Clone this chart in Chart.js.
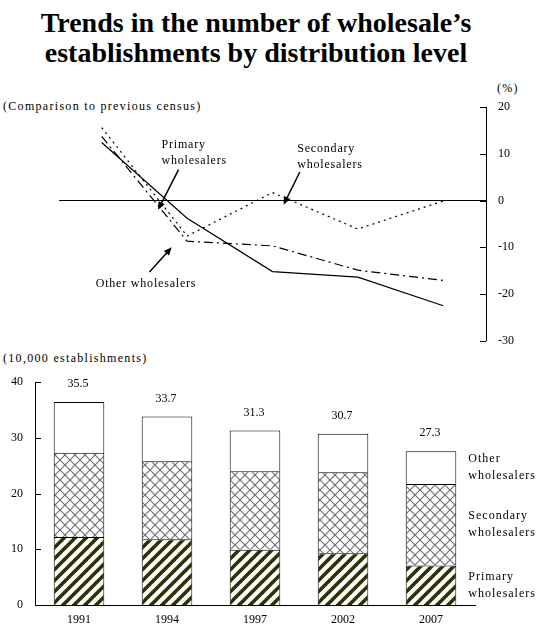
<!DOCTYPE html>
<html>
<head>
<meta charset="utf-8">
<script src="https://cdn.jsdelivr.net/npm/chart.js@4.4.1/dist/chart.umd.min.js"></script>
<style>
    body { margin: 0; width: 540px; height: 625px; background: #fff; position: relative; overflow: hidden;
           font-family: "Liberation Serif", "Times New Roman", serif; color: #000; }
    #title { position: absolute; top: 8px; left: 0; width: 512px; text-align: center;
             font-weight: bold; font-size: 28px; line-height: 30px; }
    .note { position: absolute; font-size: 12px; letter-spacing: 1.3px; white-space: nowrap; line-height: 14px; }
    #lineWrap { position: absolute; left: 0; top: 80px; width: 540px; height: 280px; }
    #barWrap { position: absolute; left: 0; top: 360px; width: 540px; height: 265px; }
</style>
</head>
<body>
<div id="title">Trends in the number of wholesale’s<br>establishments by distribution level</div>
<div class="note" style="left:3px; top:99px;">(Comparison to previous census)</div>
<div class="note" style="left:497px; top:81px;">(%)</div>
<div class="note" style="left:3px; top:351px;">(10,000 establishments)</div>
<div id="lineWrap"><canvas id="lineChart" width="540" height="280"></canvas></div>
<div id="barWrap"><canvas id="barChart" width="540" height="265"></canvas></div>

<script>
// Dados
const years = ['1991', '1994', '1997', '2002', '2007'];

// Variação em relação ao censo anterior (%)
const primaryChange = [12.4, -3.8, -15.2, -16.4, -22.5];
const secondaryChange = [15.6, -7.6, 1.7, -6.1, -0.1];
const otherChange = [13.7, -8.7, -9.7, -14.9, -17.1];
const changeTicks = [20, 10, 0, -10, -20, -30];

// Número de estabelecimentos (10.000)
const primaryCount = [12.2, 11.8, 9.9, 9.3, 7.1];
const secondaryCount = [15.1, 14.0, 14.1, 14.5, 14.6];
const otherCount = [9.1, 8.0, 7.3, 6.9, 5.9];
const totalLabels = ['35.5', '33.7', '31.3', '30.7', '27.3'];
const countTicks = [0, 10, 20, 30, 40];

const seriesNames = ['Primary', 'Secondary', 'Other'];

const serif = '"Liberation Serif", "Times New Roman", serif';

// Padrões de preenchimento
function stripePattern() {
    const c = document.createElement('canvas');
    c.width = 11; c.height = 11;
    const g = c.getContext('2d');
    g.fillStyle = '#fff';
    g.fillRect(0, 0, 11, 11);
    g.strokeStyle = '#2f2f05';
    g.lineWidth = 3.6;
    [[-5.5, 5.5, 5.5, -5.5], [0, 11, 11, 0], [5.5, 16.5, 16.5, 5.5]].forEach(l => {
        g.beginPath(); g.moveTo(l[0], l[1]); g.lineTo(l[2], l[3]); g.stroke();
    });
    return g.createPattern(c, 'repeat');
}

function crossPattern() {
    const c = document.createElement('canvas');
    c.width = 10; c.height = 10;
    const g = c.getContext('2d');
    g.fillStyle = '#fff';
    g.fillRect(0, 0, 10, 10);
    g.strokeStyle = '#737373';
    g.lineWidth = 1.2;
    g.beginPath(); g.moveTo(0, 0); g.lineTo(10, 10); g.stroke();
    g.beginPath(); g.moveTo(0, 10); g.lineTo(10, 0); g.stroke();
    return g.createPattern(c, 'repeat');
}

function drawArrow(ctx, x1, y1, x2, y2) {
    const ang = Math.atan2(y2 - y1, x2 - x1);
    const len = 8, wid = 3.5;
    ctx.save();
    ctx.strokeStyle = '#000';
    ctx.fillStyle = '#000';
    ctx.lineWidth = 1.5;
    ctx.beginPath();
    ctx.moveTo(x1, y1);
    ctx.lineTo(x2 - Math.cos(ang) * len * 0.8, y2 - Math.sin(ang) * len * 0.8);
    ctx.stroke();
    ctx.beginPath();
    ctx.moveTo(x2, y2);
    ctx.lineTo(x2 - Math.cos(ang) * len - Math.sin(ang) * wid, y2 - Math.sin(ang) * len + Math.cos(ang) * wid);
    ctx.lineTo(x2 - Math.cos(ang) * len + Math.sin(ang) * wid, y2 - Math.sin(ang) * len - Math.cos(ang) * wid);
    ctx.closePath();
    ctx.fill();
    ctx.restore();
}

// Marcas dos eixos voltadas para dentro
const innerTicks = {
    id: 'innerTicks',
    afterDraw(chart, args, opts) {
        const ctx = chart.ctx;
        const scale = chart.scales.y;
        const x0 = opts.side === 'right' ? chart.chartArea.right : chart.chartArea.left;
        const dir = opts.side === 'right' ? -1 : 1;
        ctx.save();
        ctx.strokeStyle = '#000';
        ctx.lineWidth = 1;
        scale.ticks.forEach(t => {
            const y = Math.round(scale.getPixelForValue(t.value)) + 0.5;
            ctx.beginPath();
            ctx.moveTo(x0, y);
            ctx.lineTo(x0 + dir * 6, y);
            ctx.stroke();
        });
        ctx.restore();
    }
};

// Anotações do gráfico de linhas (em coordenadas de dados)
const lineNotes = {
    id: 'lineNotes',
    afterDraw(chart) {
        const ctx = chart.ctx;
        const xs = chart.scales.x, ys = chart.scales.y;
        const px = v => xs.getPixelForValue(v);
        const py = v => ys.getPixelForValue(v);
        ctx.save();
        ctx.font = '12px ' + serif;
        ctx.letterSpacing = '0.8px';
        ctx.fillStyle = '#000';
        ctx.textAlign = 'left';
        ctx.textBaseline = 'middle';
        ctx.fillText('Primary', px(0.7), py(12.0));
        ctx.fillText('wholesalers', px(0.7), py(8.5));
        ctx.fillText('Secondary', px(2.29), py(11.0));
        ctx.fillText('wholesalers', px(2.29), py(7.6));
        ctx.fillText('Other wholesalers', px(-0.07), py(-17.8));
        ctx.restore();
        drawArrow(ctx, px(0.9), py(6.6), px(0.66), py(-2.0));
        drawArrow(ctx, px(2.32), py(6.1), px(2.13), py(-0.9));
        drawArrow(ctx, px(0.56), py(-15.3), px(0.82), py(-10.0));
    }
};

// Totais e nomes das séries no gráfico de barras
const barNotes = {
    id: 'barNotes',
    afterDatasetsDraw(chart) {
        const ctx = chart.ctx;
        const top = chart.getDatasetMeta(2);
        ctx.save();
        ctx.font = '12px ' + serif;
        ctx.fillStyle = '#000';
        ctx.textAlign = 'center';
        ctx.textBaseline = 'middle';
        top.data.forEach((bar, i) => {
            ctx.fillText(totalLabels[i], bar.x - 1, bar.y - 18);
        });
        ctx.textAlign = 'left';
        ctx.letterSpacing = '1px';
        const last = years.length - 1;
        seriesNames.forEach((name, d) => {
            const bar = chart.getDatasetMeta(d).data[last];
            const mid = (bar.y + bar.base) / 2;
            const x = bar.x + bar.width / 2 + 12;
            ctx.fillText(name, x, mid - 8.5);
            ctx.fillText('wholesalers', x, mid + 8.5);
        });
        ctx.restore();
    }
};

function toPoints(arr) {
    return arr.map((v, i) => ({ x: i, y: v }));
}

// Gráfico de linhas
new Chart(document.getElementById('lineChart'), {
    type: 'line',
    data: {
        datasets: [
            { label: 'Primary wholesalers', data: toPoints(primaryChange), borderColor: '#000', borderWidth: 1.2, pointRadius: 0, tension: 0 },
            { label: 'Secondary wholesalers', data: toPoints(secondaryChange), borderColor: '#000', borderWidth: 1.2, borderDash: [2, 4], pointRadius: 0, tension: 0 },
            { label: 'Other wholesalers', data: toPoints(otherChange), borderColor: '#000', borderWidth: 1.2, borderDash: [9, 4, 2, 4], pointRadius: 0, tension: 0 }
        ]
    },
    options: {
        responsive: false,
        animation: false,
        layout: { padding: { left: 59, top: 27, bottom: 15, right: 0 } },
        plugins: { legend: { display: false }, tooltip: { enabled: false }, innerTicks: { side: 'right' } },
        scales: {
            x: { type: 'linear', min: -0.5, max: 4.5, display: false },
            y: {
                position: 'right',
                min: -30, max: 20,
                afterBuildTicks: s => { s.ticks = changeTicks.map(v => ({ value: v })); },
                afterFit: s => { s.width = 54; },
                ticks: { font: { family: serif, size: 12 }, color: '#000', padding: 12 },
                grid: { drawTicks: false, color: c => (c.tick && c.tick.value === 0 ? '#000' : 'rgba(0,0,0,0)'), lineWidth: 1 },
                border: { display: true, color: '#000', width: 1 }
            }
        }
    },
    plugins: [innerTicks, lineNotes]
});

// Gráfico de barras empilhadas
new Chart(document.getElementById('barChart'), {
    type: 'bar',
    data: {
        labels: years,
        datasets: [
            { label: 'Primary wholesalers', data: primaryCount, backgroundColor: stripePattern(), borderColor: '#000', borderWidth: 1 },
            { label: 'Secondary wholesalers', data: secondaryCount, backgroundColor: crossPattern(), borderColor: '#000', borderWidth: 1 },
            { label: 'Other wholesalers', data: otherCount, backgroundColor: '#fff', borderColor: '#000', borderWidth: 1 }
        ]
    },
    options: {
        responsive: false,
        animation: false,
        layout: { padding: { left: 0, top: 22, right: 65, bottom: 0 } },
        datasets: { bar: { barPercentage: 0.575, categoryPercentage: 1 } },
        plugins: { legend: { display: false }, tooltip: { enabled: false }, innerTicks: { side: 'left' } },
        scales: {
            x: {
                stacked: true,
                afterFit: s => { s.height = 20; },
                ticks: { font: { family: serif, size: 12 }, color: '#000', padding: 8 },
                grid: { display: false, drawTicks: false },
                border: { display: true, color: '#000', width: 1 }
            },
            y: {
                stacked: true,
                min: 0, max: 40,
                afterBuildTicks: s => { s.ticks = countTicks.map(v => ({ value: v })); },
                afterFit: s => { s.width = 35; },
                ticks: { font: { family: serif, size: 12 }, color: '#000', padding: 12 },
                grid: { display: false, drawTicks: false },
                border: { display: true, color: '#000', width: 1 }
            }
        }
    },
    plugins: [innerTicks, barNotes]
});
</script>
</body>
</html>
